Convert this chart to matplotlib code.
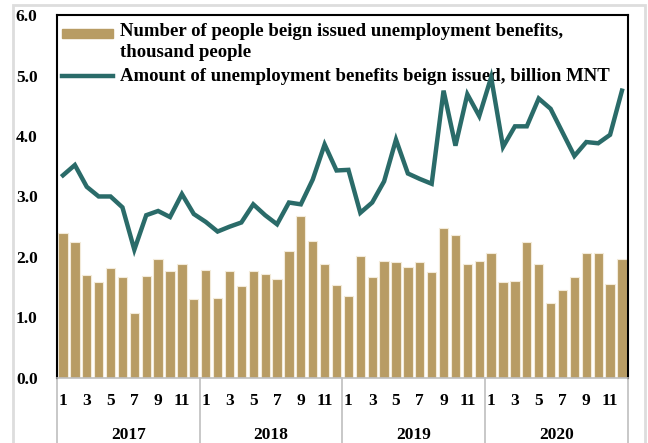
import numpy as np
import matplotlib.pyplot as plt
import matplotlib.patches as patches
from matplotlib.lines import Line2D
from matplotlib.transforms import blended_transform_factory

plt.rcParams['font.family'] = ['Liberation Serif', 'DejaVu Serif']
plt.rcParams['font.weight'] = 'bold'

years = ['2017', '2018', '2019', '2020']
months = list(range(1, 13))

# thousand people
people = [2.40, 2.24, 1.70, 1.59, 1.81, 1.66, 1.08, 1.69, 1.97, 1.77, 1.88, 1.31,
          1.78, 1.32, 1.76, 1.52, 1.76, 1.72, 1.63, 2.09, 2.68, 2.26, 1.89, 1.54,
          1.36, 2.02, 1.66, 1.93, 1.92, 1.84, 1.92, 1.75, 2.48, 2.36, 1.88, 1.93,
          2.07, 1.59, 1.61, 2.24, 1.88, 1.24, 1.46, 1.66, 2.06, 2.07, 1.56, 1.96]
# billion MNT
amount = [3.35, 3.52, 3.16, 3.00, 3.00, 2.82, 2.12, 2.69, 2.76, 2.66, 3.04, 2.71,
          2.58, 2.42, 2.50, 2.57, 2.87, 2.69, 2.54, 2.90, 2.87, 3.28, 3.86, 3.43,
          3.44, 2.73, 2.90, 3.25, 3.94, 3.38, 3.29, 3.21, 4.75, 3.84, 4.69, 4.33,
          4.97, 3.82, 4.16, 4.16, 4.62, 4.45, 4.06, 3.67, 3.90, 3.88, 4.02, 4.75]

label_people = ['Number of people beign issued unemployment benefits,', 'thousand people']
label_amount = 'Amount of unemployment benefits beign issued, billion MNT'

bar_color = '#B89C64'
line_color = '#2A6B69'

fig = plt.figure(figsize=(6.48, 4.43), dpi=100)
ax = fig.add_axes([0.088, 0.147, 0.881, 0.819])

x = np.arange(len(people))
ax.bar(x, people, width=0.78, color=bar_color, edgecolor='#F3EBDA', linewidth=0.8)
ax.plot(x, amount, color=line_color, linewidth=3.2, solid_joinstyle='miter', zorder=3)

ax.set_xlim(-0.5, len(people) - 0.5)
ax.set_ylim(0, 6)
ax.set_yticks(np.arange(0, 6.1, 1))
ax.set_yticklabels(['%.1f' % v for v in np.arange(0, 6.1, 1)], fontsize=12.5, fontweight='bold')
ax.tick_params(axis='y', length=0, pad=14)
ax.set_xticks([])

for s in ['left', 'top', 'right']:
    ax.spines[s].set_color('black')
    ax.spines[s].set_linewidth(1.5)
ax.spines['bottom'].set_color('#BFBFBF')
ax.spines['bottom'].set_linewidth(1.2)

# two-level x axis
trans = blended_transform_factory(ax.transData, ax.transAxes)
for yi, yr in enumerate(years):
    for m in months[::2]:
        ax.text(yi * 12 + m - 1, -0.065, str(m), transform=trans, ha='center', va='center',
                fontsize=12.5, fontweight='bold')
    ax.text(yi * 12 + 5.5, -0.157, yr, transform=trans, ha='center', va='center',
            fontsize=12.5, fontweight='bold')
for k in range(len(years) + 1):
    ax.add_line(Line2D([k * 12 - 0.5, k * 12 - 0.5], [0, -0.2], transform=trans,
                       color='#BFBFBF', linewidth=1.2, clip_on=False))

# legend drawn by hand so the bar key sits on the first text line
ax.add_patch(patches.Rectangle((0.009, 0.936), 0.089, 0.025, transform=ax.transAxes,
                               color=bar_color, zorder=2))
ax.add_line(Line2D([0.009, 0.098], [0.831, 0.831], transform=ax.transAxes,
                   color=line_color, linewidth=3.2, zorder=2))
for txt, yy in zip(label_people, [0.955, 0.897]):
    ax.text(0.110, yy, txt, transform=ax.transAxes, ha='left', va='center',
            fontsize=13.5, fontweight='bold', zorder=2)
ax.text(0.110, 0.831, label_amount, transform=ax.transAxes, ha='left', va='center',
        fontsize=13.5, fontweight='bold', zorder=2)

# light grey outer frame
fig.patches.append(patches.Rectangle((13 / 648, -0.01), 632 / 648, 1 - 5 / 443 + 0.01,
                                     transform=fig.transFigure, fill=False,
                                     edgecolor='#DDDDDD', linewidth=2))

fig.savefig('out.png', dpi=100)
